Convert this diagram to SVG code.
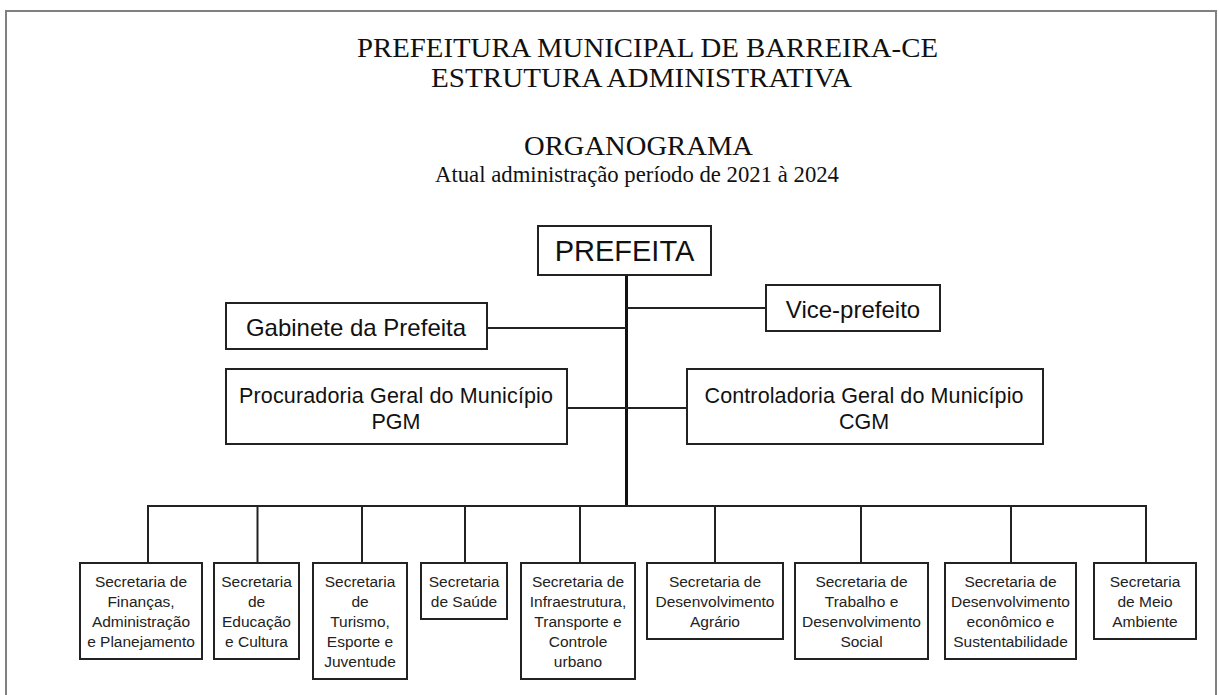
<svg xmlns="http://www.w3.org/2000/svg" width="1219" height="695" viewBox="0 0 1219 695">
<style>
.bg{fill:#ffffff}
.frame{fill:none;stroke:#808080;stroke-width:2}
.box{fill:#ffffff;stroke:#222222;stroke-width:2}
.ln{fill:none;stroke:#222222;stroke-width:2}
.main{fill:none;stroke:#111111;stroke-width:3}
.ttl{font-family:"Liberation Serif","Times New Roman",serif;fill:#111111}
.big{font-family:"Liberation Sans",Arial,sans-serif;fill:#111111;text-anchor:middle}
.sm{font-family:"Liberation Sans",Arial,sans-serif;font-size:15.5px;fill:#222222;text-anchor:middle}
</style>
<rect class="bg" x="0" y="0" width="1219" height="695"/>
<path class="frame" d="M6,700 V11 H1216 V700"/>
<g id="title">
<text class="ttl" x="357" y="57" font-size="27.5" textLength="581" lengthAdjust="spacingAndGlyphs">PREFEITURA MUNICIPAL DE BARREIRA-CE</text>
<text class="ttl" x="431" y="87" font-size="27.5" textLength="421" lengthAdjust="spacingAndGlyphs">ESTRUTURA ADMINISTRATIVA</text>
<text class="ttl" x="524" y="155" font-size="27.5" textLength="229" lengthAdjust="spacingAndGlyphs">ORGANOGRAMA</text>
<text class="ttl" x="435" y="182" font-size="22.7" textLength="404" lengthAdjust="spacingAndGlyphs">Atual administração período de 2021 à 2024</text>
</g>
<g id="connectors">
<line class="main" x1="626.5" y1="275" x2="626.5" y2="506"/>
<line class="ln" x1="626.5" y1="308" x2="766" y2="308"/>
<line class="ln" x1="487" y1="328" x2="626.5" y2="328"/>
<line class="ln" x1="567" y1="408" x2="687" y2="408"/>
<line class="ln" x1="147" y1="506" x2="1147" y2="506"/>
<line class="ln" x1="148" y1="506" x2="148" y2="563"/>
<line class="ln" x1="257.5" y1="506" x2="257.5" y2="563"/>
<line class="ln" x1="362" y1="506" x2="362" y2="563"/>
<line class="ln" x1="465" y1="506" x2="465" y2="563"/>
<line class="ln" x1="580" y1="506" x2="580" y2="563"/>
<line class="ln" x1="715" y1="506" x2="715" y2="563"/>
<line class="ln" x1="861" y1="506" x2="861" y2="563"/>
<line class="ln" x1="1011" y1="506" x2="1011" y2="563"/>
<line class="ln" x1="1146" y1="506" x2="1146" y2="563"/>
</g>
<g id="prefeita">
<rect class="box" x="538" y="226" width="173" height="49"/>
<text class="big" x="624.5" y="261" font-size="29">PREFEITA</text>
</g>
<g id="vice-prefeito">
<rect class="box" x="766" y="285" width="174" height="46"/>
<text class="big" x="853" y="318" font-size="24">Vice-prefeito</text>
</g>
<g id="gabinete">
<rect class="box" x="226" y="303" width="261" height="46"/>
<text class="big" x="356" y="336" font-size="24">Gabinete da Prefeita</text>
</g>
<g id="procuradoria">
<rect class="box" x="226" y="369" width="341" height="75"/>
<text class="big" x="396" y="403" font-size="21.5" textLength="314">Procuradoria Geral do Município</text>
<text class="big" x="396" y="429" font-size="21.5">PGM</text>
</g>
<g id="controladoria">
<rect class="box" x="687" y="369" width="356" height="75"/>
<text class="big" x="864" y="403" font-size="21.5" textLength="319">Controladoria Geral do Município</text>
<text class="big" x="864" y="429" font-size="21.5">CGM</text>
</g>
<g id="sec-financas">
<rect class="box" x="80" y="563" width="122" height="96"/>
<text class="sm" x="141" y="587">Secretaria de</text>
<text class="sm" x="141" y="607">Finanças,</text>
<text class="sm" x="141" y="627">Administração</text>
<text class="sm" x="141" y="647">e Planejamento</text>
</g>
<g id="sec-educacao">
<rect class="box" x="214" y="563" width="85" height="96"/>
<text class="sm" x="256.5" y="587">Secretaria</text>
<text class="sm" x="256.5" y="607">de</text>
<text class="sm" x="256.5" y="627">Educação</text>
<text class="sm" x="256.5" y="647">e Cultura</text>
</g>
<g id="sec-turismo">
<rect class="box" x="313" y="563" width="94" height="116"/>
<text class="sm" x="360" y="587">Secretaria</text>
<text class="sm" x="360" y="607">de</text>
<text class="sm" x="360" y="627">Turismo,</text>
<text class="sm" x="360" y="647">Esporte e</text>
<text class="sm" x="360" y="667">Juventude</text>
</g>
<g id="sec-saude">
<rect class="box" x="421" y="563" width="86" height="56"/>
<text class="sm" x="464" y="587">Secretaria</text>
<text class="sm" x="464" y="607">de Saúde</text>
</g>
<g id="sec-infraestrutura">
<rect class="box" x="521" y="563" width="114" height="116"/>
<text class="sm" x="578" y="587">Secretaria de</text>
<text class="sm" x="578" y="607">Infraestrutura,</text>
<text class="sm" x="578" y="627">Transporte e</text>
<text class="sm" x="578" y="647">Controle</text>
<text class="sm" x="578" y="667">urbano</text>
</g>
<g id="sec-agrario">
<rect class="box" x="647" y="563" width="136" height="76"/>
<text class="sm" x="715" y="587">Secretaria de</text>
<text class="sm" x="715" y="607">Desenvolvimento</text>
<text class="sm" x="715" y="627">Agrário</text>
</g>
<g id="sec-trabalho">
<rect class="box" x="795" y="563" width="133" height="96"/>
<text class="sm" x="861.5" y="587">Secretaria de</text>
<text class="sm" x="861.5" y="607">Trabalho e</text>
<text class="sm" x="861.5" y="627">Desenvolvimento</text>
<text class="sm" x="861.5" y="647">Social</text>
</g>
<g id="sec-economico">
<rect class="box" x="945" y="563" width="131" height="96"/>
<text class="sm" x="1010.5" y="587">Secretaria de</text>
<text class="sm" x="1010.5" y="607">Desenvolvimento</text>
<text class="sm" x="1010.5" y="627">econômico e</text>
<text class="sm" x="1010.5" y="647">Sustentabilidade</text>
</g>
<g id="sec-meio-ambiente">
<rect class="box" x="1094" y="563" width="102" height="76"/>
<text class="sm" x="1145" y="587">Secretaria</text>
<text class="sm" x="1145" y="607">de Meio</text>
<text class="sm" x="1145" y="627">Ambiente</text>
</g>
</svg>
